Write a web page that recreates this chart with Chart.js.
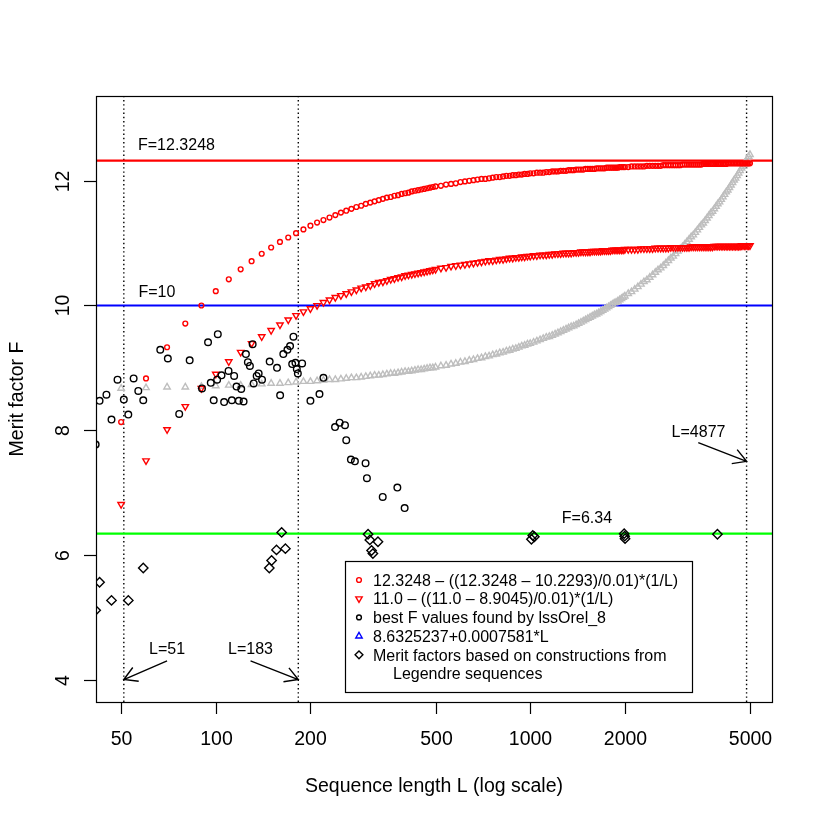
<!DOCTYPE html>
<html>
<head>
<meta charset="utf-8">
<script src="https://cdn.jsdelivr.net/npm/chart.js@4/dist/chart.umd.min.js"></script>
<style>
  html, body { margin: 0; padding: 0; background: #fff; }
  canvas { display: block; }
</style>
</head>
<body>
<canvas id="meritChart" width="822" height="822"></canvas>
<script>
// sequence lengths shared by the three model curves
var lengths = [50,60,70,80,90,100,110,120,130,140,150,160,170,180,190,200,210,220,230,240,250,260,270,280,290,300,310,320,330,340,350,360,370,380,390,400,410,420,430,440,450,460,470,480,490,500,
  520,540,560,580,600,620,640,660,680,700,720,740,760,780,800,820,840,860,880,900,920,940,960,980,1000,
  1025,1050,1075,1100,1125,1150,1175,1200,1225,1250,1275,1300,1325,1350,1375,1400,1425,1450,1475,1500,1525,1550,1575,1600,1625,1650,1675,1700,1725,1750,1775,1800,1825,1850,1875,1900,1925,1950,1975,2000,
  2050,2100,2150,2200,2250,2300,2350,2400,2450,2500,2550,2600,2650,2700,2750,2800,2850,2900,2950,3000,3050,3100,3150,3200,3250,3300,3350,3400,3450,3500,3550,3600,3650,3700,3750,3800,3850,3900,3950,4000,4050,4100,4150,4200,4250,4300,4350,4400,4450,4500,4550,4600,4650,4700,4750,4800,4850,4900,4950,5000];

// red circles: 12.3248 - ((12.3248 - 10.2293)/0.01)*(1/L)
var upperFit = [8.13,8.83,9.33,9.71,10.00,10.23,10.42,10.58,10.71,10.83,10.93,11.02,11.09,11.16,11.22,11.28,11.33,11.37,11.41,11.45,11.49,11.52,11.55,11.58,11.60,11.63,11.65,11.67,11.69,11.71,11.73,11.74,11.76,11.77,11.79,11.80,11.81,11.83,11.84,11.85,11.86,11.87,11.88,11.89,11.90,11.91,
  11.92,11.94,11.95,11.96,11.98,11.99,12.00,12.01,12.02,12.03,12.03,12.04,12.05,12.06,12.06,12.07,12.08,12.08,12.09,12.09,12.10,12.10,12.11,12.11,12.12,
  12.12,12.13,12.13,12.13,12.14,12.14,12.15,12.15,12.15,12.16,12.16,12.16,12.17,12.17,12.17,12.18,12.18,12.18,12.18,12.19,12.19,12.19,12.19,12.19,12.20,12.20,12.20,12.20,12.20,12.21,12.21,12.21,12.21,12.21,12.21,12.21,12.22,12.22,12.22,12.22,
  12.22,12.23,12.23,12.23,12.23,12.23,12.24,12.24,12.24,12.24,12.24,12.24,12.25,12.25,12.25,12.25,12.25,12.25,12.25,12.25,12.26,12.26,12.26,12.26,12.26,12.26,12.26,12.26,12.26,12.26,
  12.27,12.27,12.27,12.27,12.27,12.27,12.27,12.27,12.27,12.27,12.27,12.27,12.27,12.27,12.28,12.28,12.28,12.28,12.28,12.28,12.28,12.28,12.28,12.28,12.28,12.28,12.28,12.28,12.28,12.28];

// red triangles: 11.0 - ((11.0 - 8.9045)/0.01)*(1/L)
var lowerFit = [6.81,7.51,8.01,8.38,8.67,8.90,9.10,9.25,9.39,9.50,9.60,9.69,9.77,9.84,9.90,9.95,10.00,10.05,10.09,10.13,10.16,10.19,10.22,10.25,10.28,10.30,10.32,10.35,10.37,10.38,10.40,10.42,10.43,10.45,10.46,10.48,10.49,10.50,10.51,10.52,10.53,10.54,10.55,10.56,10.57,10.58,
  10.60,10.61,10.63,10.64,10.65,10.66,10.67,10.68,10.69,10.70,10.71,10.72,10.72,10.73,10.74,10.74,10.75,10.76,10.76,10.77,10.77,10.78,10.78,10.79,10.79,
  10.80,10.80,10.81,10.81,10.81,10.82,10.82,10.83,10.83,10.83,10.84,10.84,10.84,10.84,10.85,10.85,10.85,10.86,10.86,10.86,10.86,10.86,10.87,10.87,10.87,10.87,10.87,10.88,10.88,10.88,10.88,10.88,10.89,10.89,10.89,10.89,10.89,10.89,10.89,10.90,
  10.90,10.90,10.90,10.90,10.91,10.91,10.91,10.91,10.91,10.92,10.92,10.92,10.92,10.92,10.92,10.93,10.93,10.93,10.93,10.93,10.93,10.93,10.93,10.93,
  10.94,10.94,10.94,10.94,10.94,10.94,10.94,10.94,10.94,10.94,10.94,10.94,
  10.95,10.95,10.95,10.95,10.95,10.95,10.95,10.95,10.95,10.95,10.95,10.95,10.95,10.95,10.95,10.95,10.95,
  10.96,10.96,10.96,10.96,10.96,10.96,10.96];

// grey triangles: 8.6325237 + 0.0007581*L
var linearFit = [8.67,8.68,8.69,8.69,8.70,8.71,8.72,8.72,8.73,8.74,8.75,8.75,8.76,8.77,8.78,8.78,8.79,8.80,8.81,8.81,8.82,8.83,8.84,8.84,8.85,8.86,8.87,8.88,8.88,8.89,8.90,8.91,8.91,8.92,8.93,8.94,8.94,8.95,8.96,8.97,8.97,8.98,8.99,9.00,9.00,9.01,
  9.03,9.04,9.06,9.07,9.09,9.10,9.12,9.13,9.15,9.16,9.18,9.19,9.21,9.22,9.24,9.25,9.27,9.28,9.30,9.31,9.33,9.35,9.36,9.38,9.39,
  9.41,9.43,9.45,9.47,9.49,9.50,9.52,9.54,9.56,9.58,9.60,9.62,9.64,9.66,9.67,9.69,9.71,9.73,9.75,9.77,9.79,9.81,9.83,9.85,9.86,9.88,9.90,9.92,9.94,9.96,9.98,10.00,10.02,10.04,10.05,10.07,10.09,10.11,10.13,10.15,
  10.19,10.22,10.26,10.30,10.34,10.38,10.41,10.45,10.49,10.53,10.57,10.60,10.64,10.68,10.72,10.76,10.79,10.83,10.87,10.91,10.94,10.98,11.02,11.06,11.10,11.13,11.17,11.21,11.25,11.29,
  11.32,11.36,11.40,11.44,11.48,11.51,11.55,11.59,11.63,11.66,11.70,11.74,11.78,11.82,11.85,11.89,11.93,11.97,12.01,12.04,12.08,12.12,12.16,12.20,12.23,12.27,12.31,12.35,12.39,12.42];

// best F values found by lssOrel_8
var bestL = [41.5,42.7,44.9,46.6,48.7,51,52.7,54.8,56.7,58.8,66.6,70.4,76.5,82.6,90.4,94.5,96.4,98.5,101,101.5,104.3,106.3,109.8,112.5,114.4,116.4,118.4,120.5,122.6,124.7,126.5,128.4,131,132,134.9,136.9,140.3,148.4,156.6,160.2,164,169,172.3,175,176.6,179.2,181,182.4,188.2,200,213.7,220,
  239.5,247.7,257.6,260,269,277,299.5,302.5,339.6,378,398.7];
var bestF = [7.77,8.47,8.57,8.17,8.81,8.49,8.25,8.83,8.63,8.48,9.29,9.15,8.26,9.12,8.67,9.41,8.76,8.48,8.81,9.54,8.88,8.45,8.95,8.48,8.87,8.70,8.47,8.66,8.46,9.22,9.09,9.03,9.38,8.75,8.87,8.91,8.81,9.10,9.00,8.56,9.22,9.29,9.35,9.06,9.50,9.08,8.98,8.91,9.07,8.47,8.58,8.84,
  8.05,8.12,8.08,7.84,7.53,7.50,7.47,7.23,6.93,7.08,6.75];

// merit factors from Legendre constructions
var legendreL = [41.5,42.7,46.6,52.7,58.8,148,150.5,156,162,166.5,305,309,313,316,328,1009,1019,1031,1990,1997,2003,3940];
var legendreF = [5.11,5.56,5.27,5.27,5.79,5.79,5.91,6.08,6.36,6.10,6.33,6.24,6.07,6.02,6.21,6.25,6.31,6.29,6.34,6.30,6.26,6.33];

var refLevels = [12.3248, 10, 6.34];
var refColors = ['#FF0000', '#0000FF', '#00FF00'];
var markLengths = [51, 183, 4877];
var xTicks = [50, 100, 200, 500, 1000, 2000, 5000];
var yTicks = [4, 6, 8, 10, 12];

var X_MIN = 41.6, X_MAX = 5875, Y_MIN = 3.64, Y_MAX = 13.36;
var FONT = "'Liberation Sans', Arial, Helvetica, sans-serif";

function pairs(xs, ys) {
  return xs.map(function (v, i) { return { x: v, y: ys[i] }; });
}

var datasets = [];
refLevels.forEach(function (v, i) {
  datasets.push({
    data: [{ x: X_MIN, y: v }, { x: X_MAX, y: v }],
    showLine: true, borderColor: refColors[i], borderWidth: 2.2, pointRadius: 0, order: 10
  });
});
markLengths.forEach(function (v) {
  datasets.push({
    data: [{ x: v, y: Y_MIN }, { x: v, y: Y_MAX }],
    showLine: true, borderColor: '#000', borderWidth: 1.4, borderDash: [1.4, 2.8], pointRadius: 0, order: 10
  });
});
datasets.push({
  data: pairs(lengths, linearFit), pointStyle: 'triangle', pointRadius: 3.7,
  borderColor: '#BEBEBE', backgroundColor: 'rgba(0,0,0,0)', borderWidth: 1.4, order: 5
});
datasets.push({
  data: pairs(lengths, lowerFit), pointStyle: 'triangle', rotation: 180, pointRadius: 3.7,
  borderColor: '#FF0000', backgroundColor: 'rgba(0,0,0,0)', borderWidth: 1.4, order: 4
});
datasets.push({
  data: pairs(lengths, upperFit), pointStyle: 'circle', pointRadius: 2.4,
  borderColor: '#FF0000', backgroundColor: 'rgba(0,0,0,0)', borderWidth: 1.4, order: 3
});
datasets.push({
  data: pairs(bestL, bestF), pointStyle: 'circle', pointRadius: 3.3,
  borderColor: '#000', backgroundColor: 'rgba(0,0,0,0)', borderWidth: 1.4, order: 2
});
datasets.push({
  data: pairs(legendreL, legendreF), pointStyle: 'rectRot', pointRadius: 4.7,
  borderColor: '#000', backgroundColor: 'rgba(0,0,0,0)', borderWidth: 1.4, order: 1
});

// texts and arrows placed in data units
var notes = [
  { text: 'F=12.3248', x: 75, y: 12.58 },
  { text: 'F=10', x: 65, y: 10.22 },
  { text: 'F=6.34', x: 1515, y: 6.6 },
  { text: 'L=51', x: 70, y: 4.5 },
  { text: 'L=183', x: 129, y: 4.5 },
  { text: 'L=4877', x: 3430, y: 7.98 }
];
var arrows = [
  { x0: 70, y0: 4.3, x1: 51, y1: 4.0 },
  { x0: 129, y0: 4.3, x1: 183, y1: 4.0 },
  { x0: 3424, y0: 7.8, x1: 4877, y1: 7.5 }
];
var legendItems = [
  { mark: 'circle', color: '#FF0000', r: 2.4, text: '12.3248 \u2013 ((12.3248 \u2013 10.2293)/0.01)*(1/L)' },
  { mark: 'down', color: '#FF0000', r: 3.7, text: '11.0 \u2013 ((11.0 \u2013 8.9045)/0.01)*(1/L)' },
  { mark: 'circle', color: '#000', r: 2.4, text: 'best F values found by lssOrel_8' },
  { mark: 'up', color: '#0000FF', r: 3.7, text: '8.6325237+0.0007581*L' },
  { mark: 'diamond', color: '#000', r: 3.9, text: 'Merit factors based on constructions from' },
  { mark: null, text: 'Legendre sequences' }
];

function drawMark(ctx, kind, x, y, r) {
  ctx.beginPath();
  if (kind === 'circle') {
    ctx.arc(x, y, r, 0, Math.PI * 2);
  } else if (kind === 'up' || kind === 'down') {
    var s = kind === 'up' ? -1 : 1;
    ctx.moveTo(x, y + s * r);
    ctx.lineTo(x - r * 0.866, y - s * r * 0.5);
    ctx.lineTo(x + r * 0.866, y - s * r * 0.5);
    ctx.closePath();
  } else if (kind === 'diamond') {
    ctx.moveTo(x, y - r); ctx.lineTo(x + r, y); ctx.lineTo(x, y + r); ctx.lineTo(x - r, y);
    ctx.closePath();
  }
  ctx.stroke();
}

var rBase = {
  id: 'rBase',
  afterDraw: function (chart) {
    var ctx = chart.ctx, a = chart.chartArea;
    var xs = chart.scales.x, ys = chart.scales.y;
    ctx.save();
    ctx.strokeStyle = '#000';
    ctx.fillStyle = '#000';
    ctx.lineWidth = 1.2;

    // box
    ctx.strokeRect(a.left + 0.5, a.top + 0.5, a.right - a.left, a.bottom - a.top);

    // x axis
    ctx.font = '19.5px ' + FONT;
    ctx.textAlign = 'center';
    ctx.textBaseline = 'alphabetic';
    xTicks.forEach(function (v) {
      var px = Math.round(xs.getPixelForValue(v)) + 0.5;
      ctx.beginPath();
      ctx.moveTo(px, a.bottom);
      ctx.lineTo(px, a.bottom + 12);
      ctx.stroke();
      ctx.fillText(String(v), px, a.bottom + 43);
    });

    // y axis, labels turned like R
    yTicks.forEach(function (v) {
      var py = Math.round(ys.getPixelForValue(v)) + 0.5;
      ctx.beginPath();
      ctx.moveTo(a.left - 12, py);
      ctx.lineTo(a.left, py);
      ctx.stroke();
      ctx.save();
      ctx.translate(69, py);
      ctx.rotate(-Math.PI / 2);
      ctx.fillText(String(v), 0, 0);
      ctx.restore();
    });

    ctx.fillText('Sequence length L (log scale)', (a.left + a.right) / 2, 792);
    ctx.save();
    ctx.translate(23, (a.top + a.bottom) / 2);
    ctx.rotate(-Math.PI / 2);
    ctx.fillText('Merit factor F', 0, 0);
    ctx.restore();

    // notes
    ctx.font = '16px ' + FONT;
    notes.forEach(function (n) {
      ctx.fillText(n.text, xs.getPixelForValue(n.x), ys.getPixelForValue(n.y) + 5.7);
    });

    // arrows
    arrows.forEach(function (ar) {
      var x0 = xs.getPixelForValue(ar.x0), y0 = ys.getPixelForValue(ar.y0);
      var x1 = xs.getPixelForValue(ar.x1), y1 = ys.getPixelForValue(ar.y1);
      var ang = Math.atan2(y1 - y0, x1 - x0), head = 15, spread = Math.PI / 6;
      ctx.lineWidth = 1.4;
      ctx.beginPath();
      ctx.moveTo(x0, y0); ctx.lineTo(x1, y1);
      ctx.moveTo(x1 - head * Math.cos(ang - spread), y1 - head * Math.sin(ang - spread));
      ctx.lineTo(x1, y1);
      ctx.lineTo(x1 - head * Math.cos(ang + spread), y1 - head * Math.sin(ang + spread));
      ctx.stroke();
    });

    // legend box
    ctx.fillStyle = '#fff';
    ctx.fillRect(345, 561, 347, 131);
    ctx.lineWidth = 1.2;
    ctx.strokeStyle = '#000';
    ctx.strokeRect(345.5, 561.5, 347, 131);
    ctx.textAlign = 'left';
    legendItems.forEach(function (it, i) {
      var cy = 580 + i * 18.7;
      if (it.mark) {
        ctx.strokeStyle = it.color;
        ctx.lineWidth = 1.4;
        drawMark(ctx, it.mark, 359, cy, it.r);
      }
      ctx.fillStyle = '#000';
      ctx.fillText(it.text, it.mark ? 373 : 393, cy + 5.7);
    });
    ctx.restore();
  }
};

new Chart(document.getElementById('meritChart'), {
  type: 'scatter',
  data: { datasets: datasets },
  options: {
    responsive: false,
    devicePixelRatio: 1,
    animation: false,
    layout: { padding: { left: 96, top: 96, right: 50, bottom: 120 } },
    scales: {
      x: { type: 'logarithmic', min: X_MIN, max: X_MAX, display: false },
      y: { type: 'linear', min: Y_MIN, max: Y_MAX, display: false }
    },
    plugins: { legend: { display: false }, tooltip: { enabled: false } },
    events: []
  },
  plugins: [rBase]
});
</script>
</body>
</html>
